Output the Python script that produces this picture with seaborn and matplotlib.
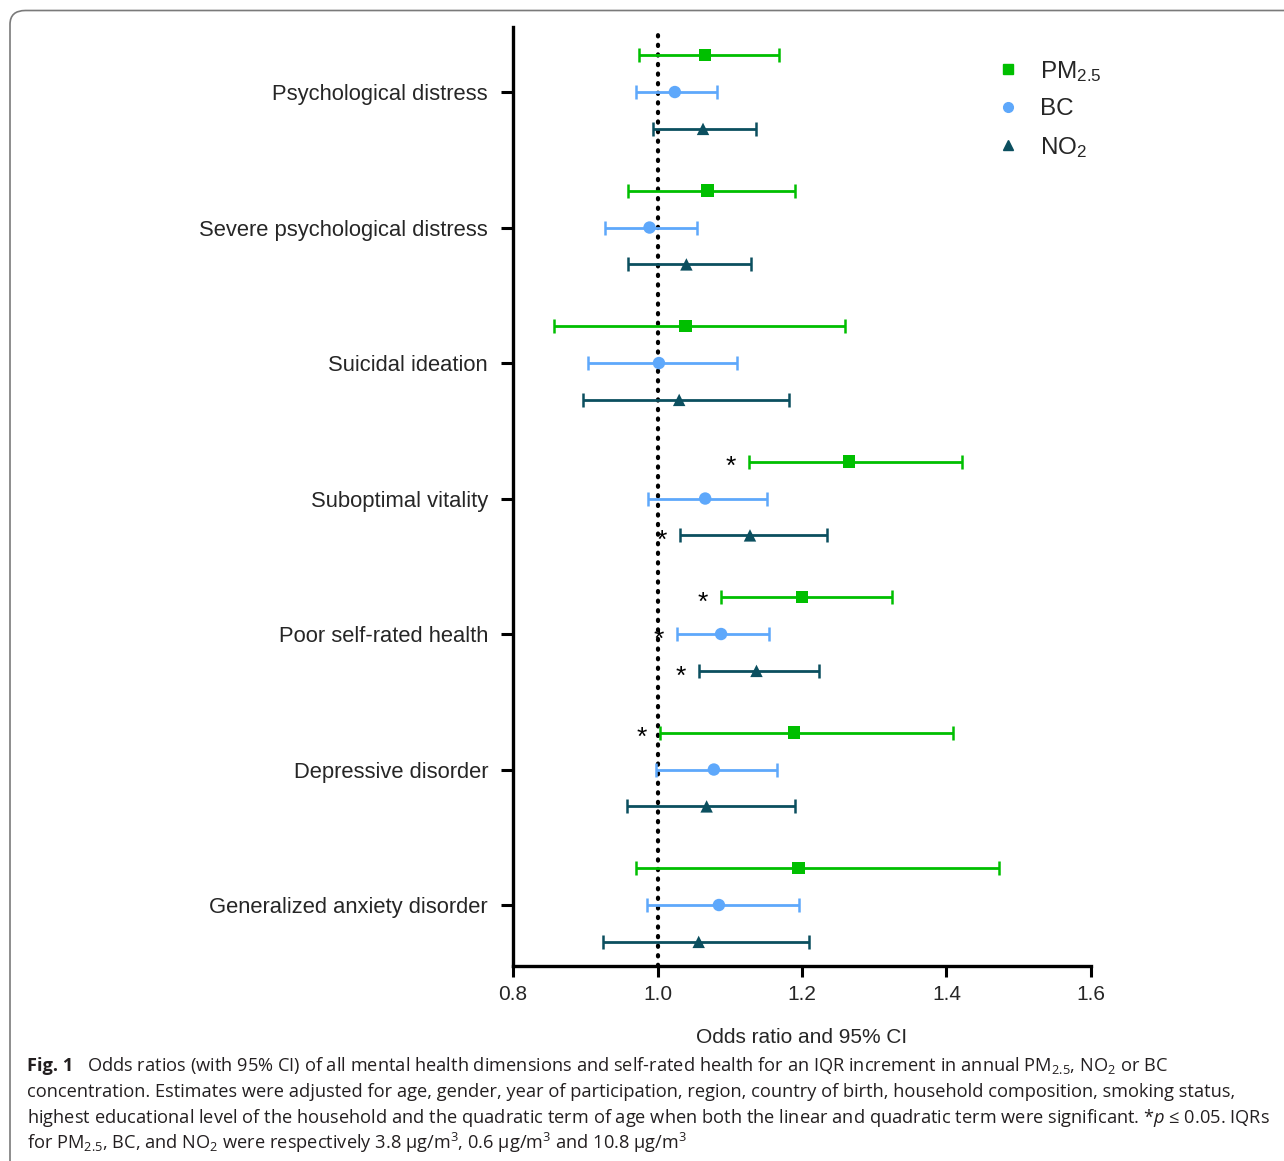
import pandas as pd
import matplotlib.pyplot as plt
import matplotlib.patches as mpatches
from matplotlib.lines import Line2D
import seaborn as sns

# data
OUTCOMES = [
    "Psychological distress",
    "Severe psychological distress",
    "Suicidal ideation",
    "Suboptimal vitality",
    "Poor self-rated health",
    "Depressive disorder",
    "Generalized anxiety disorder",
]
POLLUTANTS = ["PM2.5", "BC", "NO2"]

pm_or = [1.066, 1.069, 1.039, 1.265, 1.200, 1.189, 1.195]
pm_lo = [0.974, 0.959, 0.857, 1.127, 1.088, 1.003, 0.970]
pm_hi = [1.168, 1.191, 1.260, 1.422, 1.324, 1.409, 1.472]
pm_sig = [False, False, False, True, True, True, False]

bc_or = [1.024, 0.989, 1.002, 1.066, 1.088, 1.078, 1.085]
bc_lo = [0.970, 0.928, 0.904, 0.987, 1.027, 0.998, 0.986]
bc_hi = [1.082, 1.055, 1.110, 1.151, 1.154, 1.166, 1.196]
bc_sig = [False, False, False, False, True, False, False]

no2_or = [1.063, 1.040, 1.030, 1.128, 1.137, 1.068, 1.057]
no2_lo = [0.994, 0.959, 0.897, 1.031, 1.057, 0.958, 0.924]
no2_hi = [1.137, 1.129, 1.182, 1.234, 1.224, 1.191, 1.209]
no2_sig = [False, False, False, True, True, False, False]

X_TICKS = [0.8, 1.0, 1.2, 1.4, 1.6]

COLORS = {"PM2.5": "#00bf00", "BC": "#5ea8fb", "NO2": "#0b4f5f"}
MARKERS = {"PM2.5": "s", "BC": "o", "NO2": "^"}
OFFSET = {"PM2.5": -0.272, "BC": 0.0, "NO2": 0.272}
LEGEND_LABELS = {
    "PM2.5": r"PM$_\mathregular{2.5}$",
    "BC": "BC",
    "NO2": r"NO$_\mathregular{2}$",
}

rows = []
for pol, o, lo, hi, sig in [
    ("PM2.5", pm_or, pm_lo, pm_hi, pm_sig),
    ("BC", bc_or, bc_lo, bc_hi, bc_sig),
    ("NO2", no2_or, no2_lo, no2_hi, no2_sig),
]:
    for i, name in enumerate(OUTCOMES):
        rows.append({"outcome": name, "pollutant": pol, "pos": i + OFFSET[pol],
                     "or": o[i], "lo": lo[i], "hi": hi[i], "sig": sig[i]})
df = pd.DataFrame(rows)

sns.set_theme(style="ticks")
plt.rcParams["font.family"] = ["Liberation Sans", "DejaVu Sans"]
plt.rcParams["mathtext.fontset"] = "custom"
plt.rcParams["mathtext.rm"] = "Open Sans"
plt.rcParams["mathtext.it"] = "Open Sans:italic"

fig = plt.figure(figsize=(12.84, 11.61), dpi=100)
W, H = 1284, 1161
ax = fig.add_axes([513 / W, 1 - 966 / H, (1091 - 513) / W, (966 - 27) / H])

# frame around the whole figure
box = mpatches.FancyBboxPatch((10 / W, -0.05), 1.2, 1.05 - 10.5 / H,
                              boxstyle="round,pad=0,rounding_size=0.012",
                              transform=fig.transFigure, fill=False,
                              edgecolor="#7a7a7a", linewidth=1.2, clip_on=False)
fig.patches.append(box)

ax.axvline(1.0, color="black", linestyle=(0, (0.3, 2.0)), linewidth=3.0,
           dash_capstyle="round", zorder=1)

for pol in POLLUTANTS:
    sub = df[df["pollutant"] == pol]
    ax.errorbar(sub["or"], sub["pos"],
                xerr=[sub["or"] - sub["lo"], sub["hi"] - sub["or"]],
                fmt="none", ecolor=COLORS[pol], elinewidth=2.0,
                capsize=5.0, capthick=1.8, zorder=2)

sns.scatterplot(data=df, x="or", y="pos", hue="pollutant", style="pollutant",
                palette=COLORS, markers=MARKERS, s=80, edgecolor="none",
                legend=False, ax=ax, zorder=3)

for _, r in df[df["sig"]].iterrows():
    ax.annotate("*", xy=(r["lo"], r["pos"]), xytext=(-13, -4),
                textcoords="offset points", ha="center", va="center",
                fontsize=19, color="black")

ax.set_xlim(0.8, 1.6)
ax.set_ylim(6.45, -0.48)
ax.set_xticks(X_TICKS)
ax.set_xticklabels([f"{t:.1f}" for t in X_TICKS])
ax.set_yticks(range(len(OUTCOMES)))
ax.set_yticklabels(OUTCOMES)
ax.set_xlabel("Odds ratio and 95% CI", fontsize=15, labelpad=17)
ax.set_ylabel("")
ax.tick_params(axis="both", width=2.2, color="black")
ax.tick_params(axis="y", length=9, pad=9, labelsize=15.8)
ax.tick_params(axis="x", length=8, pad=6, labelsize=15)
sns.despine(ax=ax)
for sp in ["left", "bottom"]:
    ax.spines[sp].set_linewidth(2.4)
    ax.spines[sp].set_color("black")

handles = [Line2D([], [], marker=MARKERS[p], color=COLORS[p], linestyle="none",
                  markersize=7) for p in POLLUTANTS]
ax.legend(handles, [LEGEND_LABELS[p] for p in POLLUTANTS], loc="upper left",
          bbox_to_anchor=(0.8365, 0.966), frameon=False, fontsize=17.5,
          handlelength=0.95, handletextpad=0.85, labelspacing=0.6,
          borderpad=0, borderaxespad=0)

# caption
cap_kw = dict(fontsize=13.15, family=["Open Sans", "DejaVu Sans"], color="#231f20",
              va="baseline", ha="left")
fig.text(27 / W, 1 - 1071 / H, "Fig. 1", fontweight="bold", **cap_kw)
fig.text(87 / W, 1 - 1071 / H,
         r"Odds ratios (with 95% CI) of all mental health dimensions and self-rated health "
         r"for an IQR increment in annual PM$_\mathregular{2.5}$, NO$_\mathregular{2}$ or BC",
         **cap_kw)
fig.text(27 / W, 1 - 1097 / H,
         "concentration. Estimates were adjusted for age, gender, year of participation, region, "
         "country of birth, household composition, smoking status,", **cap_kw)
fig.text(27 / W, 1 - 1123 / H,
         r"highest educational level of the household and the quadratic term of age when both "
         r"the linear and quadratic term were significant. *$\mathit{p}$ ≤ 0.05. IQRs", **cap_kw)
fig.text(27 / W, 1 - 1149 / H,
         r"for PM$_\mathregular{2.5}$, BC, and NO$_\mathregular{2}$ were respectively 3.8 µg/m$^\mathregular{3}$, "
         r"0.6 µg/m$^\mathregular{3}$ and 10.8 µg/m$^\mathregular{3}$", **cap_kw)

fig.savefig("out.png", dpi=100)
